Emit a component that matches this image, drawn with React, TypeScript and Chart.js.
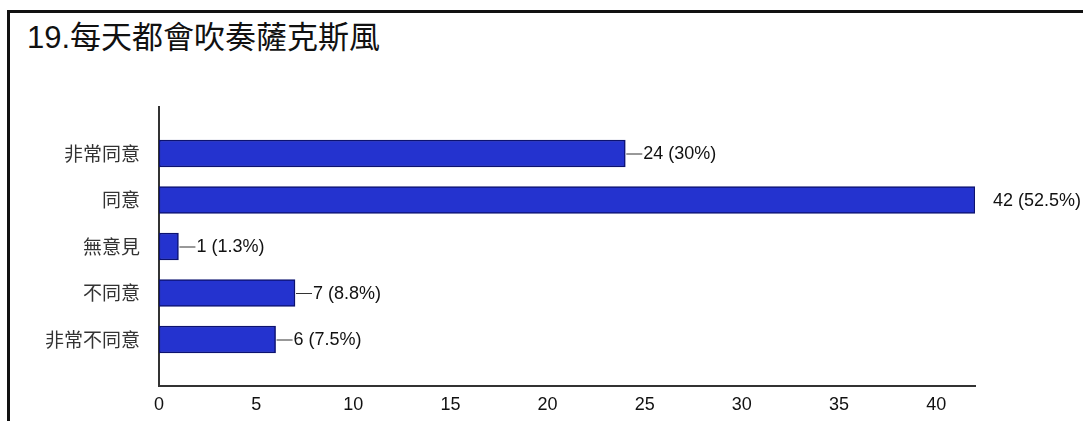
import React, { useEffect, useRef } from "react";
import { Chart, registerables } from "chart.js";

Chart.register(...registerables);

const TITLE = "19.每天都會吹奏薩克斯風";
const categories = ["", "非常同意", "同意", "無意見", "不同意", "非常不同意", ""];
const counts: (number | null)[] = [null, 24, 42, 1, 7, 6, null];
const percents: (string | null)[] = [null, "30%", "52.5%", "1.3%", "8.8%", "7.5%", null];
const X_MAX = 42;
const X_STEP = 5;

const valueLabelPlugin = {
  id: "valueLabels",
  afterDatasetsDraw(chart: any) {
    const ctx = chart.ctx;
    const meta = chart.getDatasetMeta(0);
    const xMax = chart.scales.x.max;
    ctx.save();
    ctx.font = '18px "Liberation Sans", Arial, sans-serif';
    ctx.fillStyle = "#111";
    ctx.textBaseline = "middle";
    ctx.textAlign = "left";
    meta.data.forEach((bar: any, i: number) => {
      const v = counts[i];
      if (v === null || v === undefined) return;
      const x = bar.x;
      const y = bar.y;
      if (v < xMax) {
        ctx.strokeStyle = "#333";
        ctx.lineWidth = 1;
        ctx.beginPath();
        ctx.moveTo(x + 1, y + 0.5);
        ctx.lineTo(x + 17, y + 0.5);
        ctx.stroke();
      }
      ctx.fillText(`${v} (${percents[i]})`, x + 18, y + 1);
    });
    ctx.restore();
  },
};

export default function App() {
  const ref = useRef<HTMLCanvasElement | null>(null);

  useEffect(() => {
    if (!ref.current) return;
    const chart = new Chart(ref.current, {
      type: "bar",
      data: {
        labels: categories,
        datasets: [
          {
            data: counts,
            backgroundColor: "#2433cf",
            borderColor: "#0c1270",
            borderWidth: 1.5,
            borderSkipped: false,
            barThickness: 27,
          },
        ],
      },
      options: {
        indexAxis: "y",
        responsive: false,
        animation: false,
        devicePixelRatio: 1,
        layout: { padding: { top: 107, right: 108, left: 0, bottom: 0 } },
        plugins: {
          legend: { display: false },
          tooltip: { enabled: false },
          title: { display: false },
        },
        scales: {
          x: {
            type: "linear",
            min: 0,
            max: X_MAX,
            grid: { display: false },
            border: { display: true, color: "#333", width: 2 },
            ticks: {
              stepSize: X_STEP,
              padding: 0,
              color: "#111",
              font: { size: 18, family: '"Liberation Sans", Arial, sans-serif' },
            },
            afterBuildTicks: (scale: any) => {
              scale.ticks = scale.ticks.filter((t: any) => t.value % X_STEP === 0);
            },
            afterFit: (scale: any) => {
              scale.height = 35;
            },
          },
          y: {
            type: "category",
            offset: false,
            grid: { display: false },
            border: { display: true, color: "#333", width: 2 },
            ticks: {
              padding: 11,
              color: "#333",
              autoSkip: false,
              font: { size: 19, family: '"Noto Sans CJK TC", "Liberation Sans", sans-serif' },
            },
            afterFit: (scale: any) => {
              scale.width = 159;
            },
          },
        },
      },
      plugins: [valueLabelPlugin],
    });
    return () => chart.destroy();
  }, []);

  return (
    <div
      style={{
        position: "fixed",
        left: 0,
        top: 0,
        width: 1083,
        height: 421,
        background: "#fff",
        overflow: "hidden",
      }}
    >
      <div
        style={{
          position: "absolute",
          left: 7,
          top: 10,
          right: -5,
          bottom: -5,
          borderTop: "3px solid #111",
          borderLeft: "3px solid #111",
        }}
      />
      <div
        style={{
          position: "absolute",
          left: 27,
          top: 22,
          fontSize: 31,
          lineHeight: "31px",
          color: "#111",
          whiteSpace: "nowrap",
          fontFamily: '"Liberation Sans", "Noto Sans CJK TC", sans-serif',
        }}
      >
        {TITLE}
      </div>
      <canvas
        ref={ref}
        width={1083}
        height={421}
        style={{ position: "absolute", left: 0, top: 0, display: "block" }}
      />
    </div>
  );
}
